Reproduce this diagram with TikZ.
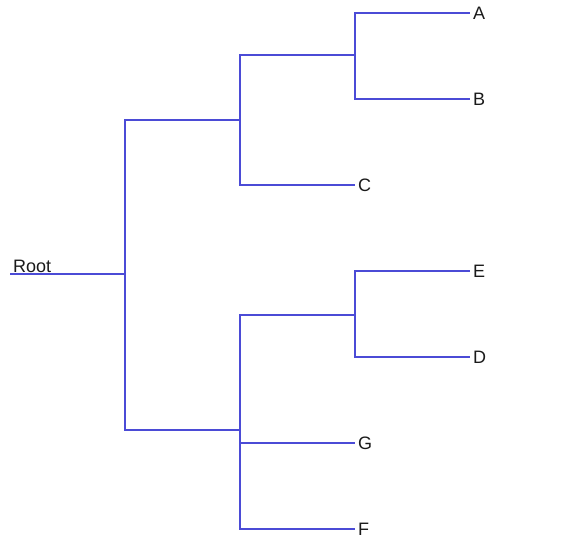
\documentclass[tikz,border=0pt]{standalone}
\usepackage{fontspec}
\setmainfont{Liberation Sans}
\usepackage{tikz}
\usepackage{xcolor}
\definecolor{Tree_Blue}{HTML}{4B4BD6}
\definecolor{Leaf_Ink}{HTML}{1A1A1A}

\begin{document}
\begin{tikzpicture}[x=1pt, y=-1pt,
    branch/.style={draw=Tree_Blue, line width=1.2pt},
    leaf/.style={anchor=west, inner sep=3pt, text=Leaf_Ink, font=\fontsize{18}{21}\selectfont}]
    \useasboundingbox (0,0) rectangle (576,541);

    % Joints
    \coordinate (root) at (10,274);
    \coordinate (jAll) at (125,274);
    \coordinate (jABC) at (240,120);
    \coordinate (jAB) at (355,55);
    \coordinate (jDEFG) at (240,430);
    \coordinate (jDE) at (355,315);

    % Leaves
    \node[leaf] (A) at (470,13) {A};
    \node[leaf] (B) at (470,99) {B};
    \node[leaf] (C) at (355,185) {C};
    \node[leaf] (E) at (470,271) {E};
    \node[leaf] (D) at (470,357) {D};
    \node[leaf] (G) at (355,443) {G};
    \node[leaf] (F) at (355,529) {F};
    \node[leaf, anchor=south west, inner xsep=3pt, inner ysep=1.5pt] (rootlabel) at (root) {Root};

    % Branches
    \draw[branch] (root) -- (jAll);
    \draw[branch] (jAll) |- (jABC);
    \draw[branch] (jAll) |- (jDEFG);
    \draw[branch] (jABC) |- (jAB);
    \draw[branch] (jABC) |- (C.west);
    \draw[branch] (jAB) |- (A.west);
    \draw[branch] (jAB) |- (B.west);
    \draw[branch] (jDEFG) |- (jDE);
    \draw[branch] (jDEFG) |- (G.west);
    \draw[branch] (jDEFG) |- (F.west);
    \draw[branch] (jDE) |- (E.west);
    \draw[branch] (jDE) |- (D.west);
\end{tikzpicture}
\end{document}
